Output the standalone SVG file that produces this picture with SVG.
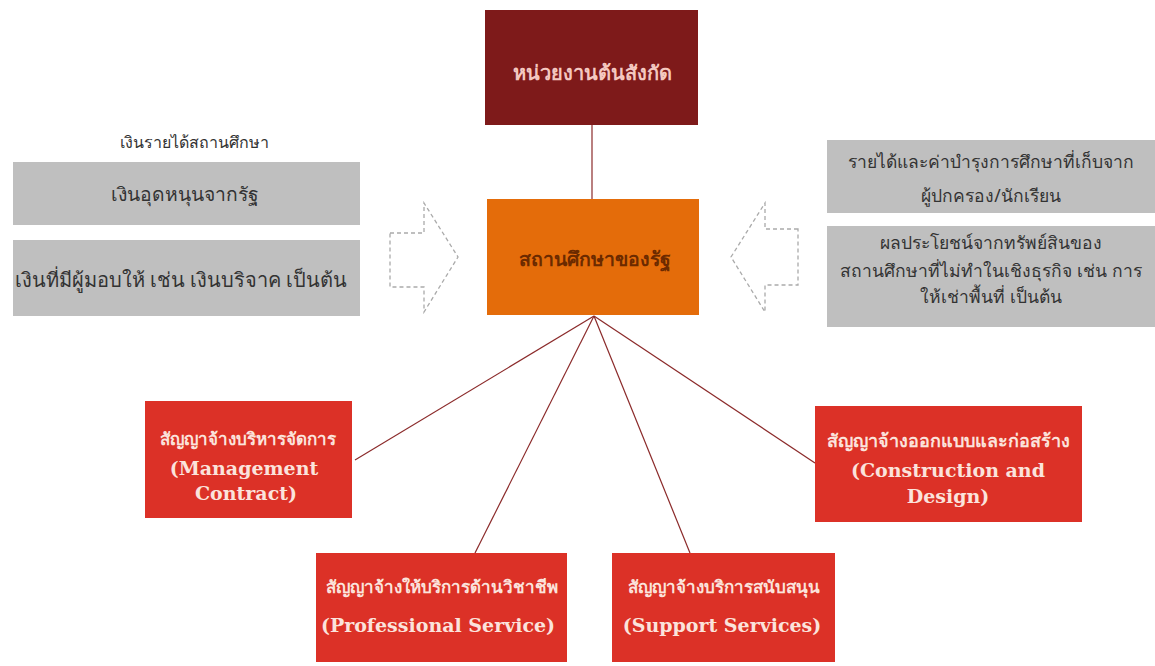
<svg xmlns="http://www.w3.org/2000/svg" width="1155" height="666" viewBox="0 0 1155 666">
<style>
.th{font-family:"Noto Sans","Liberation Sans",sans-serif}
.gray{fill:#bfbfbf}
.gt{font-family:"Noto Sans","Liberation Sans",sans-serif;font-size:17.5px;fill:#333;text-anchor:middle}
.red{fill:#dc3127}
.rt{font-family:"Noto Sans","Liberation Sans",sans-serif;font-size:17px;font-weight:bold;fill:#fbe3dc;text-anchor:middle}
.re{font-family:"DejaVu Serif",serif;font-size:19px;font-weight:bold;fill:#fbe3dc;text-anchor:middle}
.conn{stroke:#8b2a2a;stroke-width:1.2;fill:none}
.dash{stroke:#aaa;stroke-width:1.3;stroke-dasharray:4 3;fill:none}
</style>
<rect width="1155" height="666" fill="#fff"/>
<g id="connectors">
<line class="conn" x1="592" y1="125" x2="592" y2="199"/>
<line class="conn" x1="594" y1="316" x2="355" y2="460"/>
<line class="conn" x1="594" y1="316" x2="475" y2="553"/>
<line class="conn" x1="594" y1="316" x2="690" y2="553"/>
<line class="conn" x1="594" y1="316" x2="815" y2="463"/>
</g>
<g id="parent">
<rect x="485" y="10" width="213" height="115" fill="#7e1a1a"/>
<text class="th" x="592" y="80" font-size="20" font-weight="bold" fill="#f4c8c0" text-anchor="middle">หน่วยงานต้นสังกัด</text>
</g>
<g id="school">
<rect x="487" y="199" width="212" height="116" fill="#e46c0a"/>
<text class="th" x="595" y="266" font-size="19.5" font-weight="bold" fill="#6b2a00" text-anchor="middle">สถานศึกษาของรัฐ</text>
</g>
<g id="income-label">
<text class="gt" x="194" y="148" style="font-size:16px">เงินรายได้สถานศึกษา</text>
</g>
<g id="left-box1">
<rect class="gray" x="13" y="162" width="347" height="63"/>
<text class="gt" x="185" y="201" style="font-size:19.3px">เงินอุดหนุนจากรัฐ</text>
</g>
<g id="left-box2">
<rect class="gray" x="13" y="240" width="347" height="76"/>
<text class="gt" x="181" y="287" style="font-size:20px">เงินที่มีผู้มอบให้ เช่น เงินบริจาค เป็นต้น</text>
</g>
<g id="right-box1">
<rect class="gray" x="827" y="140" width="328" height="73"/>
<text class="gt" x="991" y="168">รายได้และค่าบำรุงการศึกษาที่เก็บจาก</text>
<text class="gt" x="991" y="202">ผู้ปกครอง/นักเรียน</text>
</g>
<g id="right-box2">
<rect class="gray" x="827" y="226" width="328" height="101"/>
<text class="gt" x="991" y="249">ผลประโยชน์จากทรัพย์สินของ</text>
<text class="gt" x="991" y="277">สถานศึกษาที่ไม่ทำในเชิงธุรกิจ เช่น การ</text>
<text class="gt" x="991" y="303">ให้เช่าพื้นที่ เป็นต้น</text>
</g>
<g id="arrow-left">
<path class="dash" d="M390,233 L424,233 L424,203 L458,257 L424,312 L424,287 L390,287 Z"/>
</g>
<g id="arrow-right">
<path class="dash" d="M798,229 L765,229 L765,203 L731,257 L765,312 L765,285 L798,285 Z"/>
</g>
<g id="management">
<rect class="red" x="145" y="401" width="207" height="117"/>
<text class="rt" x="248" y="445">สัญญาจ้างบริหารจัดการ</text>
<text class="re" x="244" y="475">(Management</text>
<text class="re" x="246" y="500">Contract)</text>
</g>
<g id="construction">
<rect class="red" x="815" y="406" width="267" height="116"/>
<text class="rt" x="948" y="447" style="font-size:18px">สัญญาจ้างออกแบบและก่อสร้าง</text>
<text class="re" x="948" y="477">(Construction and</text>
<text class="re" x="948" y="503">Design)</text>
</g>
<g id="professional">
<rect class="red" x="316" y="553" width="251" height="109"/>
<text class="rt" x="442" y="593">สัญญาจ้างให้บริการด้านวิชาชีพ</text>
<text class="re" x="438" y="632">(Professional Service)</text>
</g>
<g id="support">
<rect class="red" x="612" y="553" width="223" height="109"/>
<text class="rt" x="724" y="593">สัญญาจ้างบริการสนับสนุน</text>
<text class="re" x="722" y="632">(Support Services)</text>
</g>
</svg>
